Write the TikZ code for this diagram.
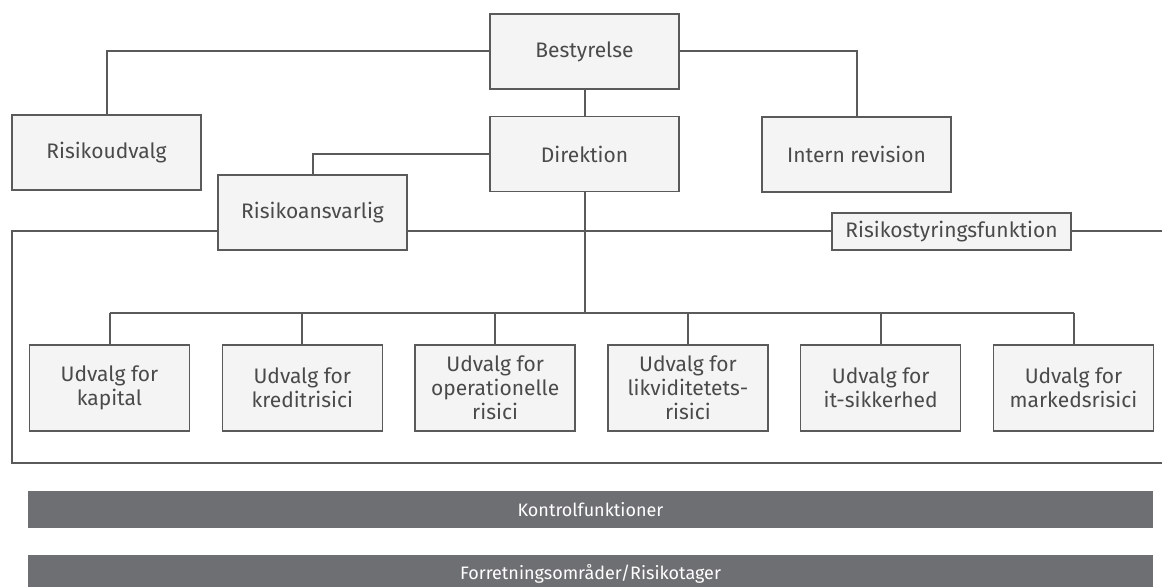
\documentclass[tikz,border=0pt]{standalone}
\usepackage{fontspec}
\setmainfont{Fira Sans}
\usepackage{tikz}
\definecolor{chart_line}{HTML}{5A5A5A}
\definecolor{chart_fill}{HTML}{F4F4F4}
\definecolor{chart_text}{HTML}{4A4A4A}
\definecolor{chart_bar}{HTML}{6E6F73}

\begin{document}
\begin{tikzpicture}[x=0.5pt, y=-0.5pt,
  box/.style={draw=chart_line, fill=chart_fill, line width=0.7pt, text=chart_text, inner sep=0pt,
    minimum width=94.5pt, minimum height=37.5pt, align=center, font=\fontsize{10.5}{12}\selectfont},
  udvalg/.style={box, minimum width=80pt, minimum height=43pt},
  bar/.style={fill=chart_bar, text=white, inner sep=0pt, minimum width=562.5pt, minimum height=18.5pt,
    font=\fontsize{9}{10}\selectfont},
  link/.style={draw=chart_line, line width=1pt}]

  \useasboundingbox (0,0) rectangle (1162,587);

  % top of the organisation
  \node[box] (bestyrelse) at (584.5,51.5) {Bestyrelse};
  \node[box] (risikoudvalg) at (106.5,152.5) {Risikoudvalg};
  \node[box] (direktion) at (584.5,154) {Direktion};
  \node[box] (revision) at (856.5,154.5) {Intern revision};
  \node[box] (ansvarlig) at (312.5,212.5) {Risikoansvarlig};
  \node[box, minimum width=119.5pt, minimum height=18.5pt] (styring) at (951.5,231.5) {Risikostyringsfunktion};

  \draw[link] (bestyrelse.west) -| (risikoudvalg.north);
  \draw[link] (bestyrelse.east) -| (revision.north);
  \draw[link] (bestyrelse.south) -- (direktion.north);
  \draw[link] (direktion.west) -| (ansvarlig.north);

  % the open frame round the committees
  \coordinate (frame_nw) at (12,231.5);
  \coordinate (frame_sw) at (12,463);
  \coordinate (frame_se) at (1170,463);
  \coordinate (frame_ne) at (1170,231.5);
  \draw[link] (ansvarlig.west |- styring) -- (frame_nw) -- (frame_sw) -- (frame_se);
  \draw[link] (ansvarlig.east |- styring) -- (styring.west);
  \draw[link] (styring.east) -- (frame_ne);

  % committees
  \foreach \name [count=\i from 0] in {{Udvalg for\\kapital}, {Udvalg for\\kreditrisici},
      {Udvalg for\\operationelle\\risici}, {Udvalg for\\likviditetets-\\risici},
      {Udvalg for\\it-sikkerhed}, {Udvalg for\\markedsrisici}}
    \node[udvalg] (udvalg\i) at (109.5+192.8*\i,388) {\name};

  \coordinate (bus) at (584.5,313);
  \draw[link] (direktion.south) -- (bus);
  \draw[link] (udvalg0 |- bus) -- (udvalg5 |- bus);
  \foreach \i in {0,...,5}
    \draw[link] (udvalg\i |- bus) -- (udvalg\i.north);

  % bars
  \node[bar] (kontrol) at (590.5,509.5) {Kontrolfunktioner};
  \node[bar] (forretning) at (590.5,573.5) {Forretningsområder/Risikotager};

\end{tikzpicture}
\end{document}
